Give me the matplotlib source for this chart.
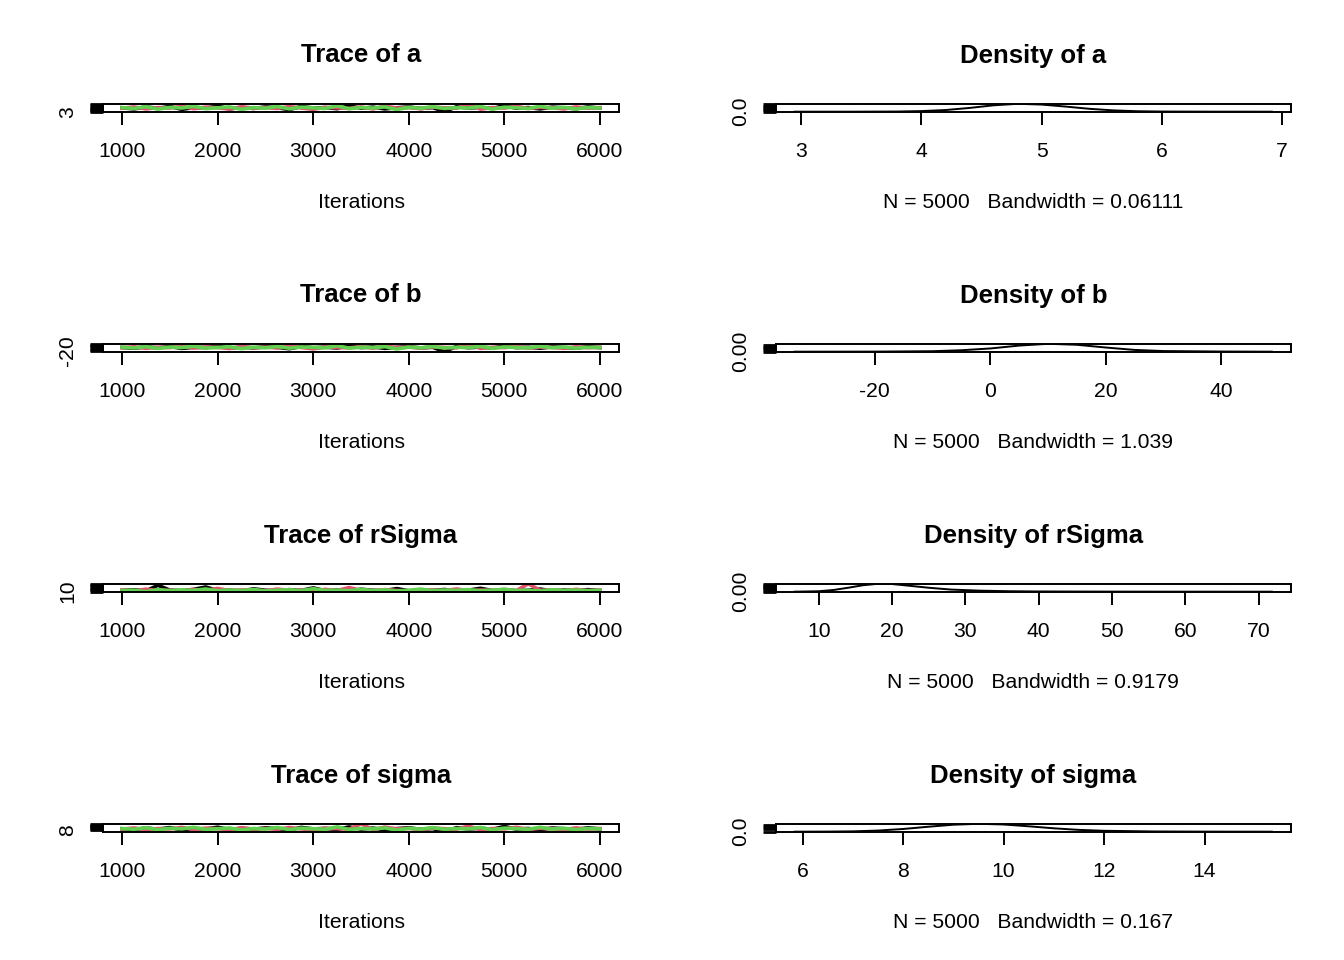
import numpy as np
import matplotlib
matplotlib.use("Agg")
import matplotlib.pyplot as plt

plt.rcParams['font.family'] = ['Liberation Sans', 'DejaVu Sans']

# chain colours (R 4 palette: black, red, green)
CHAIN_COLS = ["#000000", "#DF536B", "#61D04F"]

# thinned iterations of the chains
iterations = np.arange(1000, 6001, 125)

params = ["a", "b", "rSigma", "sigma"]

# trace values per chain
trace_a = [
    [4.9, 4.4, 5.3, 4.7, 5.5, 4.2, 5.0, 4.8, 5.7, 4.4, 5.1, 4.6, 5.3, 4.9, 4.1, 5.5, 4.8, 5.0, 4.5, 5.8, 4.7,
     5.2, 4.4, 4.9, 5.3, 4.6, 5.0, 3.13, 5.4, 4.8, 5.1, 4.6, 5.9, 4.7, 5.0, 4.4, 5.2, 4.9, 4.5, 5.3, 4.8],
    [4.7, 5.3, 4.4, 5.0, 4.8, 5.6, 4.5, 5.2, 4.9, 4.3, 5.4, 4.7, 5.0, 4.6, 5.5, 4.8, 4.2, 5.1, 4.9, 4.6, 5.3,
     4.4, 5.7, 4.8, 5.0, 4.5, 5.2, 4.9, 4.7, 6.73, 4.3, 5.0, 4.8, 5.6, 4.6, 5.1, 4.9, 4.4, 5.3, 4.7, 5.0],
    [5.0, 4.6, 5.4, 4.3, 5.1, 4.8, 5.6, 4.5, 4.9, 5.3, 4.2, 5.0, 4.7, 5.5, 4.4, 5.2, 4.9, 4.6, 5.8, 4.5, 5.0,
     4.8, 5.3, 4.1, 5.1, 4.7, 5.4, 4.6, 5.0, 4.8, 5.5, 4.3, 5.2, 4.9, 4.6, 5.6, 4.7, 5.1, 4.4, 5.0, 4.8],
]
trace_b = [
    [10, 3, 16, 7, 19, 1, 12, 9, 22, 4, 14, 6, 17, 11, -2, 20, 8, 13, 5, 24, 9,
     15, 2, 11, 18, 6, 12, -30.8, 21, 8, 14, 5, 25, 9, 12, 3, 16, 10, 4, 18, 9],
    [8, 17, 2, 12, 9, 21, 5, 15, 11, 0, 19, 7, 13, 6, 23, 10, -3, 14, 11, 6, 18,
     3, 26, 9, 13, 4, 16, 10, 7, 45.7, 1, 12, 9, 20, 5, 14, 10, 2, 17, 8, 12],
    [12, 5, 18, 1, 14, 9, 22, 4, 10, 17, -1, 13, 7, 20, 3, 15, 11, 6, 27, 4, 12,
     9, 18, -4, 14, 7, 19, 5, 12, 9, 21, 2, 15, 10, 6, 22, 8, 14, 3, 12, 9],
]
trace_rsigma = [
    [19, 24, 15, 58, 21, 17, 27, 45, 18, 22, 14, 31, 20, 16, 25, 19, 38, 17, 23, 15, 28,
     20, 18, 33, 16, 22, 19, 26, 15, 21, 35, 18, 24, 17, 20, 29, 16, 22, 19, 25, 18],
    [22, 16, 28, 18, 20, 15, 26, 19, 34, 17, 23, 21, 16, 29, 19, 22, 15, 27, 18, 41, 20,
     17, 25, 19, 14, 24, 21, 18, 30, 16, 22, 19, 26, 17, 69.0, 20, 23, 16, 27, 18, 21],
    [18, 21, 9.45, 25, 17, 23, 19, 30, 16, 22, 18, 26, 15, 20, 24, 17, 32, 19, 21, 16, 27,
     18, 23, 15, 20, 29, 17, 22, 19, 25, 16, 21, 28, 18, 20, 15, 24, 19, 22, 17, 20],
]
trace_sigma = [
    [9.5, 8.7, 10.3, 9.1, 10.8, 8.4, 9.8, 9.3, 11.2, 8.6, 10.0, 9.0, 10.5, 9.6, 8.2, 11.0, 9.4, 9.9, 8.8, 11.5, 9.2,
     10.2, 8.5, 9.7, 10.6, 8.9, 9.8, 6.40, 10.7, 9.3, 10.1, 8.9, 12.0, 9.2, 9.8, 8.6, 10.3, 9.6, 8.8, 10.5, 9.4],
    [9.2, 10.4, 8.6, 9.8, 9.4, 11.0, 8.8, 10.2, 9.6, 8.4, 10.7, 9.2, 9.8, 9.0, 10.9, 9.4, 8.3, 10.1, 9.6, 9.0, 14.84,
     8.7, 11.3, 9.4, 9.9, 8.8, 10.3, 9.6, 9.1, 12.4, 8.5, 9.8, 9.4, 11.1, 9.0, 10.0, 9.6, 8.6, 10.5, 9.2, 9.8],
    [9.8, 9.0, 10.6, 8.5, 10.1, 9.4, 11.1, 8.8, 9.6, 10.4, 8.2, 9.8, 9.2, 10.9, 8.6, 10.2, 9.6, 9.0, 11.6, 8.8, 9.8,
     9.4, 10.4, 8.1, 10.0, 9.2, 10.7, 9.0, 9.8, 9.4, 10.9, 8.5, 10.2, 9.6, 9.0, 11.1, 9.2, 10.0, 8.6, 9.8, 9.4],
]
traces = [trace_a, trace_b, trace_rsigma, trace_sigma]

# kernel density estimates
dens_a_x = [2.945, 3.4, 3.8, 4.0, 4.2, 4.4, 4.6, 4.8, 5.0, 5.2, 5.4, 5.6, 5.8, 6.0, 6.4, 6.915]
dens_a_y = [0.0, 0.0, 0.02, 0.08, 0.22, 0.50, 0.85, 1.05, 0.95, 0.68, 0.38, 0.17, 0.06, 0.02, 0.005, 0.0]
dens_b_x = [-33.9, -20, -10, -5, 0, 5, 10, 15, 20, 25, 30, 40, 48.8]
dens_b_y = [0.0, 0.0005, 0.003, 0.009, 0.02, 0.038, 0.049, 0.043, 0.026, 0.011, 0.004, 0.001, 0.0]
dens_r_x = [6.7, 10, 12, 14, 16, 18, 20, 22, 25, 28, 32, 36, 40, 50, 60, 71.8]
dens_r_y = [0.0, 0.004, 0.015, 0.035, 0.057, 0.07, 0.068, 0.055, 0.035, 0.019, 0.009, 0.004, 0.002, 0.0006, 0.0002, 0.0]
dens_s_x = [5.84, 6.5, 7.0, 7.5, 8.0, 8.5, 9.0, 9.5, 10.0, 10.5, 11.0, 11.5, 12.0, 13, 14, 15.34]
dens_s_y = [0.0, 0.004, 0.015, 0.05, 0.12, 0.22, 0.31, 0.35, 0.32, 0.24, 0.15, 0.08, 0.04, 0.01, 0.003, 0.0]
dens_x = [dens_a_x, dens_b_x, dens_r_x, dens_s_x]
dens_y = [dens_a_y, dens_b_y, dens_r_y, dens_s_y]

bandwidths = ["0.06111", "1.039", "0.9179", "0.167"]
n_obs = 5000

# tick positions and the single label R manages to fit
trace_yticks = [[3, 3.5, 4, 4.5, 5, 5.5, 6, 6.5], [-20, -10, 0, 10, 20, 30, 40],
                [10, 20, 30, 40, 50, 60, 70], [8, 9, 10, 11, 12, 13, 14, 15]]
dens_xticks = [[3, 4, 5, 6, 7], [-20, 0, 20, 40], [10, 20, 30, 40, 50, 60, 70], [6, 8, 10, 12, 14]]
dens_yticks = [[0, 0.2, 0.4, 0.6, 0.8, 1.0], [0, 0.01, 0.02, 0.03, 0.04],
               [0, 0.01, 0.02, 0.03, 0.04, 0.05, 0.06, 0.07], [0, 0.1, 0.2, 0.3]]
dens_ylabel = ["0.0", "0.00", "0.00", "0.0"]
trace_xticks = [1000, 2000, 3000, 4000, 5000, 6000]

W, H = 1344, 960
fig = plt.figure(figsize=(W / 100, H / 100), dpi=100)

LW = 1.4
TICK_LEN = 9.4
TICK_FS = 15.2


def r_range(lo, hi):
    pad = 0.04 * (hi - lo)
    return lo - pad, hi + pad


def style_axes(ax):
    for sp in ax.spines.values():
        sp.set_linewidth(LW)
    ax.tick_params(axis='both', direction='out', length=TICK_LEN, width=LW, labelsize=TICK_FS)
    ax.tick_params(axis='x', pad=12)
    ax.tick_params(axis='y', pad=9, width=2.0)


box_h = 8.5
for i, p in enumerate(params):
    top = 103.5 + 240 * i
    bottom = 1 - (top + box_h) / H
    title_y = 1 - (55.5 + 240 * i) / H
    xlab_y = 1 - (202.5 + 240 * i) / H

    # trace panel
    ax = fig.add_axes([103 / W, bottom, (619 - 103) / W, box_h / H])
    for k, chain in enumerate(traces[i]):
        ax.plot(iterations, chain, color=CHAIN_COLS[k], lw=2.6)
    allv = np.concatenate([np.array(c, dtype=float) for c in traces[i]])
    ax.set_xlim(*r_range(1000, 6000))
    ax.set_ylim(*r_range(allv.min(), allv.max()))
    ax.set_xticks(trace_xticks)
    ax.set_xticklabels([str(t) for t in trace_xticks])
    ax.set_yticks(trace_yticks[i])
    ax.set_yticklabels([str(trace_yticks[i][0])] + [""] * (len(trace_yticks[i]) - 1),
                       rotation=90, va='center')
    style_axes(ax)
    fig.text((103 + 619) / 2 / W, title_y, f"Trace of {p}", ha='center', va='center',
             fontsize=18.5, fontweight='bold')
    fig.text((103 + 619) / 2 / W, xlab_y, "Iterations", ha='center', va='center', fontsize=TICK_FS)

    # density panel
    ax2 = fig.add_axes([775.5 / W, bottom, (1291 - 775.5) / W, box_h / H])
    dx, dy = dens_x[i], dens_y[i]
    ax2.plot(dx, dy, color='black', lw=LW)
    # observation marks (show.obs)
    ymax = max(dy)
    ax2.plot(allv, np.full(allv.shape, ymax / 100), '|', color='0.35', ms=2, mew=0.8)
    ax2.set_xlim(*r_range(dx[0], dx[-1]))
    ax2.set_ylim(*r_range(0, ymax))
    ax2.set_xticks(dens_xticks[i])
    ax2.set_xticklabels([str(t) for t in dens_xticks[i]])
    ax2.set_yticks(dens_yticks[i])
    ax2.set_yticklabels([dens_ylabel[i]] + [""] * (len(dens_yticks[i]) - 1), rotation=90, va='center')
    style_axes(ax2)
    fig.text((775.5 + 1291) / 2 / W, title_y, f"Density of {p}", ha='center', va='center',
             fontsize=18.5, fontweight='bold')
    fig.text((775.5 + 1291) / 2 / W, xlab_y, f"N = {n_obs}   Bandwidth = {bandwidths[i]}",
             ha='center', va='center', fontsize=TICK_FS)

fig.savefig("out.png", dpi=100)
